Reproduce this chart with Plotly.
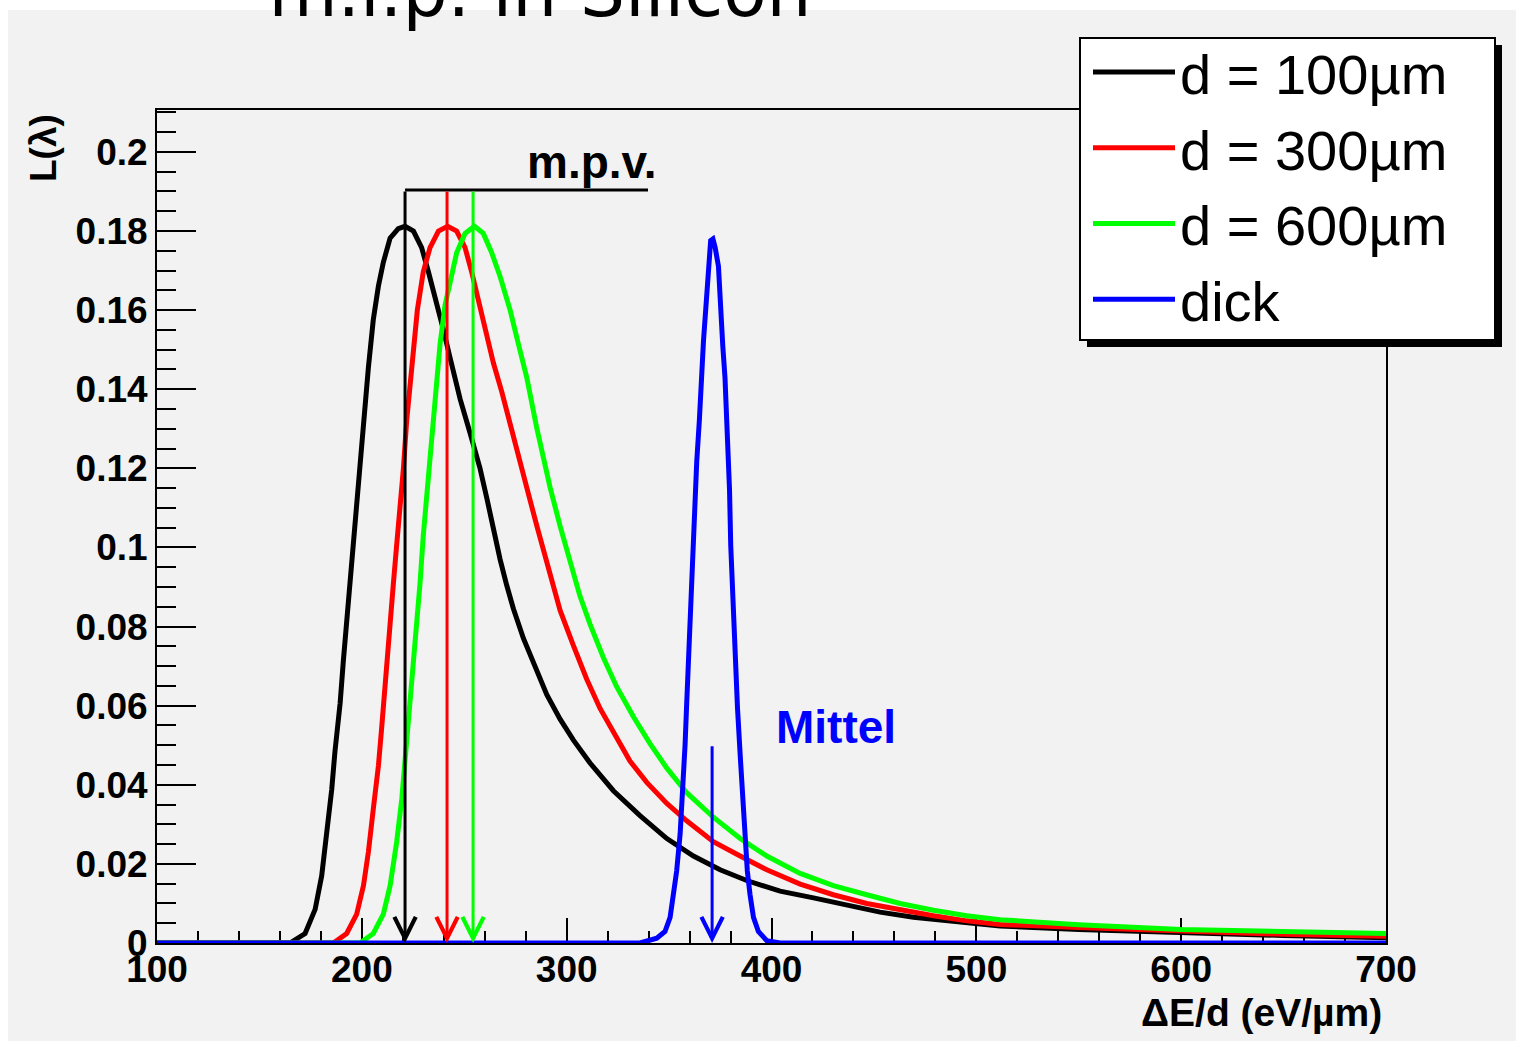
import plotly.graph_objects as go

# ---------------- data ----------------
title_text = "m.i.p. in Silicon"
series_names = ["d = 100µm", "d = 300µm", "d = 600µm", "dick"]
series_colors = ["#000000", "#ff0000", "#00ff00", "#0000ff"]

x_d100 = [100, 164.9, 172.3, 177.2, 180.4, 182.8, 185.3, 186.9, 189.4, 191.0, 192.6, 194.2,
          196.2, 197.5, 199.1, 201.1, 203.2, 205.6, 208.1, 210.5, 213.8, 217.8, 221.1, 225.2,
          229.2, 232.5, 235.7, 239.8, 243.1, 248.0, 252.8, 257.7, 261.0, 264.2, 267.5, 270.7,
          274.0, 278.9, 283.8, 290.3, 296.8, 303.3, 311.4, 322.8, 335.8, 348.9, 361.9, 374.9,
          387.9, 404.2, 420.5, 436.7, 453.0, 469.3, 485.6, 511.6, 550, 600, 650, 700]
y_d100 = [0, 0, 0.0024, 0.0085, 0.0170, 0.0267, 0.0388, 0.0485, 0.0606, 0.0715, 0.0812, 0.0909,
          0.1030, 0.1127, 0.1224, 0.1345, 0.1455, 0.1576, 0.1661, 0.1721, 0.1782, 0.1806, 0.1812, 0.1800,
          0.1758, 0.1697, 0.1636, 0.1551, 0.1479, 0.1375, 0.1290, 0.1200, 0.1125, 0.1045, 0.0970, 0.0905,
          0.0845, 0.0770, 0.0708, 0.0628, 0.0566, 0.0513, 0.0455, 0.0385, 0.0322, 0.0264, 0.0220, 0.0185,
          0.0158, 0.0131, 0.0114, 0.0096, 0.0078, 0.0065, 0.0056, 0.0043, 0.0034, 0.0025, 0.0019, 0.0013]

x_d300 = [100, 186.1, 192.6, 197.5, 200.8, 203.2, 205.6, 208.1, 209.7, 211.8, 213.8, 215.4, 217.0,
          218.7, 220.3, 221.9, 223.5, 225.2, 227.1, 230.0, 233.3, 237.4, 241.9, 246.3, 250.4, 253.6,
          256.9, 260.2, 264.2, 268.3, 272.4, 276.4, 280.5, 285.4, 290.3, 296.8, 303.3, 309.8, 316.3,
          322.8, 330.9, 339.1, 348.9, 358.6, 371.6, 384.7, 397.7, 414.0, 430.2, 446.5, 462.8, 479.1,
          495.3, 511.6, 550, 600, 650, 700]
y_d300 = [0, 0, 0.0024, 0.0073, 0.0145, 0.0230, 0.0339, 0.0448, 0.0545, 0.0667, 0.0788, 0.0909, 0.1006,
          0.1103, 0.1200, 0.1321, 0.1418, 0.1515, 0.1600, 0.1697, 0.1758, 0.1800, 0.1812, 0.1800, 0.1758, 0.1697,
          0.1624, 0.1551, 0.1467, 0.1394, 0.1309, 0.1224, 0.1152, 0.1055, 0.0960, 0.0841, 0.0752, 0.0667, 0.0593,
          0.0531, 0.0460, 0.0406, 0.0353, 0.0309, 0.0256, 0.0220, 0.0185, 0.0149, 0.0122, 0.0100, 0.0083, 0.0069,
          0.0056, 0.0047, 0.0039, 0.0029, 0.0022, 0.0017]

x_d600 = [100, 199.1, 205.6, 210.5, 213.8, 217.0, 219.5, 221.6, 223.5, 225.2, 226.8, 228.4, 230.0,
          231.7, 233.3, 234.9, 236.6, 238.2, 240.6, 243.1, 246.3, 250.4, 255.0, 259.3, 263.4, 267.5,
          272.4, 276.4, 280.5, 285.4, 288.6, 291.9, 296.8, 301.7, 306.5, 311.4, 317.9, 324.4, 332.6,
          340.7, 348.9, 358.6, 371.6, 384.7, 397.7, 414.0, 430.2, 446.5, 462.8, 479.1, 495.3, 511.6,
          550, 600, 650, 700]
y_d600 = [0, 0, 0.0024, 0.0073, 0.0145, 0.0255, 0.0364, 0.0485, 0.0606, 0.0715, 0.0812, 0.0909, 0.1030,
          0.1127, 0.1236, 0.1333, 0.1430, 0.1515, 0.1612, 0.1673, 0.1745, 0.1794, 0.1812, 0.1794, 0.1745, 0.1685,
          0.1600, 0.1515, 0.1430, 0.1302, 0.1222, 0.1152, 0.1054, 0.0965, 0.0877, 0.0806, 0.0722, 0.0648, 0.0572,
          0.0504, 0.0442, 0.0380, 0.0318, 0.0264, 0.0220, 0.0176, 0.0145, 0.0122, 0.0100, 0.0083, 0.0069, 0.0059,
          0.0046, 0.0034, 0.0028, 0.0024]

x_dick = [100, 335.8, 344.0, 348.0, 350.5, 352.1, 353.7, 355.4, 356.7, 357.8, 358.6, 359.4, 360.3,
          361.1, 361.9, 362.7, 363.5, 364.8, 365.6, 366.8, 368.1, 369.2, 370.3, 371.4, 372.5, 374.1,
          374.9, 376.2, 377.3, 378.5, 379.5, 380.1, 381.4, 382.5, 383.4, 384.7, 386.0, 387.1, 388.2,
          389.5, 391.2, 393.6, 397.7, 404.2, 700]
y_dick = [0, 0, 0.0012, 0.0029, 0.0065, 0.0123, 0.0182, 0.0276, 0.0382, 0.0500, 0.0606, 0.0711, 0.0817,
          0.0911, 0.1005, 0.1123, 0.1217, 0.1323, 0.1429, 0.1523, 0.1617, 0.1711, 0.1776, 0.1780, 0.1758, 0.1711,
          0.1617, 0.1511, 0.1429, 0.1299, 0.1147, 0.1005, 0.0829, 0.0711, 0.0594, 0.0476, 0.0359, 0.0265, 0.0182,
          0.0123, 0.0065, 0.0029, 0.0006, 0, 0]

mpv_values = [221.1, 241.6, 254.3]     # most probable values (black, red, green)
mpv_level = 0.1904                     # height of the m.p.v. bracket
mpv_bar_end = 339.7                    # right end of the m.p.v. bracket
mittel_value = 371.0                   # mean of the thick-detector curve
mittel_arrow_top = 0.0501

x_range = [100, 700]
y_range = [0, 0.2106]
x_tick_vals = [100, 200, 300, 400, 500, 600, 700]
x_tick_text = ["100", "200", "300", "400", "500", "600", "700"]
y_tick_vals = [0, 0.02, 0.04, 0.06, 0.08, 0.1, 0.12, 0.14, 0.16, 0.18, 0.2]
y_tick_text = ["0", "0.02", "0.04", "0.06", "0.08", "0.1", "0.12", "0.14", "0.16", "0.18", "0.2"]

# ---------------- layout constants (pixels) ----------------
W, H = 1518, 1041
L, R, T, B = 157, 132, 110, 98
PW, PH = W - L - R, H - T - B


def px_x(p):
    return (p - L) / PW


def px_y(p):
    return (H - B - p) / PH


FONT = "Liberation Sans, Arial, sans-serif"

fig = go.Figure()

xs = [x_d100, x_d300, x_d600, x_dick]
ys = [y_d100, y_d300, y_d600, y_dick]
for i in range(4):
    fig.add_trace(go.Scatter(
        x=xs[i], y=ys[i], mode="lines", name=series_names[i],
        line=dict(color=series_colors[i], width=5),
        legendgroup="g%d" % i, cliponaxis=False,
    ))

# m.p.v. bracket
fig.add_trace(go.Scatter(
    x=[mpv_values[0], mpv_bar_end], y=[mpv_level, mpv_level], mode="lines",
    line=dict(color="black", width=3), showlegend=False, hoverinfo="skip",
))

annotations = []
for v, c in zip(mpv_values, series_colors[:3]):
    annotations.append(dict(
        x=v, y=0, ax=v, ay=mpv_level, xref="x", yref="y", axref="x", ayref="y",
        text="", showarrow=True, arrowhead=5, arrowsize=1.4, arrowwidth=3,
        arrowcolor=c, standoff=0,
    ))
annotations.append(dict(
    x=mittel_value, y=0, ax=mittel_value, ay=mittel_arrow_top, xref="x", yref="y",
    axref="x", ayref="y", text="", showarrow=True, arrowhead=5, arrowsize=1.4,
    arrowwidth=3, arrowcolor="#0000ff", standoff=0,
))
annotations.append(dict(
    x=312.4, y=0.1975, xref="x", yref="y", text="<b>m.p.v.</b>", showarrow=False,
    font=dict(family=FONT, size=46, color="black"), xanchor="center", yanchor="middle",
))
annotations.append(dict(
    x=431.5, y=0.0546, xref="x", yref="y", text="<b>Mittel</b>", showarrow=False,
    font=dict(family=FONT, size=46, color="#0000ff"), xanchor="center", yanchor="middle",
))
# axis titles
annotations.append(dict(
    x=px_x(1384), y=px_y(1013), xref="paper", yref="paper", text="<b>ΔE/d (eV/µm)</b>",
    showarrow=False, font=dict(family=FONT, size=39, color="black"),
    xanchor="right", yanchor="middle",
))
annotations.append(dict(
    x=px_x(43), y=px_y(112), xref="paper", yref="paper", text="<b>L(λ)</b>",
    showarrow=False, font=dict(family=FONT, size=37, color="black"), textangle=-90,
    xanchor="center", yanchor="top",
))

shapes = [
    # grey canvas
    dict(type="rect", xref="paper", yref="paper", x0=px_x(8), x1=px_x(1516),
         y0=px_y(1041), y1=px_y(10), fillcolor="#f2f2f2", line=dict(width=0), layer="below"),
    # legend shadow
    dict(type="rect", xref="paper", yref="paper", x0=px_x(1087), x1=px_x(1502),
         y0=px_y(347), y1=px_y(45), fillcolor="black", line=dict(width=0), layer="above"),
    # legend box
    dict(type="rect", xref="paper", yref="paper", x0=px_x(1080), x1=px_x(1495),
         y0=px_y(340), y1=px_y(38), fillcolor="white", line=dict(color="black", width=2),
         layer="above"),
]

fig.update_layout(
    width=W, height=H,
    margin=dict(l=L, r=R, t=T, b=B),
    paper_bgcolor="white", plot_bgcolor="#f2f2f2",
    title=dict(text=title_text, x=540 / W, xanchor="center", xref="container",
               y=1 - 16 / H, yanchor="bottom", yref="container",
               font=dict(family="DejaVu Sans", size=71, color="black")),
    showlegend=True,
    legend=dict(x=px_x(1088), y=px_y(29), xanchor="left", yanchor="top",
                bgcolor="rgba(0,0,0,0)", borderwidth=0, itemwidth=82,
                font=dict(family=FONT, size=56, color="black"),
                tracegroupgap=8, traceorder="normal"),
    annotations=annotations,
    shapes=shapes,
)

fig.update_xaxes(
    range=x_range, tickvals=x_tick_vals, ticktext=x_tick_text,
    ticks="inside", ticklen=25, tickwidth=2, tickcolor="black",
    minor=dict(dtick=20, ticks="inside", ticklen=12, tickwidth=2, tickcolor="black"),
    showgrid=False, zeroline=False, showline=True, linecolor="black", linewidth=2,
    mirror=True, layer="below traces", ticklabelstandoff=-7,
    tickfont=dict(family=FONT, size=37, color="black", weight="bold"),
)
fig.update_yaxes(
    range=y_range, tickvals=y_tick_vals, ticktext=y_tick_text,
    ticks="inside", ticklen=39, tickwidth=2, tickcolor="black",
    minor=dict(dtick=0.005, tick0=0, ticks="inside", ticklen=19, tickwidth=2, tickcolor="black"),
    showgrid=False, zeroline=False, showline=True, linecolor="black", linewidth=2,
    mirror=True, layer="below traces",
    tickfont=dict(family=FONT, size=37, color="black", weight="bold"),
)

fig.write_html("out.html")
